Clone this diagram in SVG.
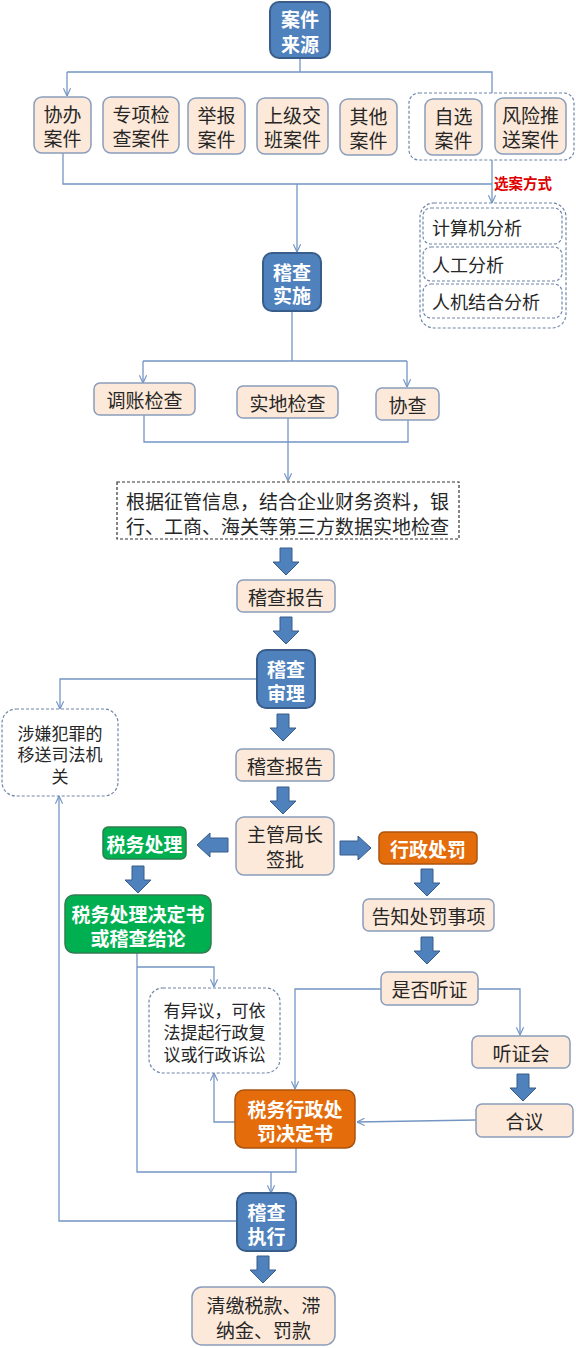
<svg xmlns="http://www.w3.org/2000/svg" width="576" height="1348" viewBox="0 0 576 1348">
<style>
.pb{fill:#FDE9D9;stroke:#8A9DBB;stroke-width:1.5}
.bb{fill:#4F81BD;stroke:#385D8A;stroke-width:2}
.gb{fill:#00B050;stroke:#2E7D4F;stroke-width:1.5}
.ob{fill:#E46C0A;stroke:#A9530F;stroke-width:1.5}
.db{fill:#FFFFFF;stroke:#6F86A8;stroke-width:1.2;stroke-dasharray:3 2}
.dk{fill:#FFFFFF;stroke:#333333;stroke-width:1.2;stroke-dasharray:3 2}
.t{font-family:"Noto Sans CJK SC","Noto Sans",sans-serif;font-size:19px;fill:#262626;text-anchor:middle;dominant-baseline:central}
.l{text-anchor:start}
.w{fill:#FFFFFF;font-weight:bold}
.s17{font-size:17px}
.s18{font-size:18px}
.red{fill:#E00000;font-weight:bold;font-size:14.5px;text-anchor:start}
.blk{fill:#4F81BD;stroke:#385D8A;stroke-width:1}
#connectors path{fill:none;stroke:#7395C3;stroke-width:1.3}
</style>
<defs>
<marker id="ar" viewBox="0 0 10 10" refX="9.5" refY="5" markerWidth="9" markerHeight="9" orient="auto" markerUnits="userSpaceOnUse">
<path d="M1,1 L9.5,5 L1,9" fill="none" stroke="#7395C3" stroke-width="1.3"/>
</marker>
<path id="bd" class="blk" d="M-6,0 H6 V14 H13 L0,27 L-13,14 H-6 Z"/>
<path id="bh" class="blk" d="M-7,0 H7 V18 H12 L0,31 L-12,18 H-7 Z"/>
</defs>

<g id="connectors">
<path d="M300,58 V72 M67,72 H492 V93"/>
<path d="M67,72 V96" marker-end="url(#ar)"/>
<path d="M63,153 V184 H492"/>
<path d="M492,160 V203" marker-end="url(#ar)"/>
<path d="M297,184 V252" marker-end="url(#ar)"/>
<path d="M292,311 V361 M143,361 H407"/>
<path d="M143,361 V383" marker-end="url(#ar)"/>
<path d="M407,361 V387" marker-end="url(#ar)"/>
<path d="M144,415 V442 H408 V420"/>
<path d="M288,418 V481" marker-end="url(#ar)"/>
<path d="M257,679 H60 V709" marker-end="url(#ar)"/>
<path d="M237,1221 H59 V796" marker-end="url(#ar)"/>
<path d="M137,953 V1172 H296 V1148"/>
<path d="M271,1172 V1193" marker-end="url(#ar)"/>
<path d="M137,967 H214 V987" marker-end="url(#ar)"/>
<path d="M235,1122 H214 V1073" marker-end="url(#ar)"/>
<path d="M381,989 H295 V1089" marker-end="url(#ar)"/>
<path d="M478,989 H520 V1035" marker-end="url(#ar)"/>
<path d="M476,1120 L357,1122" marker-end="url(#ar)"/>
</g>

<g id="block-arrows">
<use href="#bd" transform="translate(286,548)"/>
<use href="#bd" transform="translate(286,617)"/>
<use href="#bd" transform="translate(283,714)"/>
<use href="#bd" transform="translate(283,787)"/>
<use href="#bh" transform="translate(228,845) rotate(90)"/>
<use href="#bh" transform="translate(340,848) rotate(-90)"/>
<use href="#bd" transform="translate(138,866)"/>
<use href="#bd" transform="translate(427,869)"/>
<use href="#bd" transform="translate(427,937)"/>
<use href="#bd" transform="translate(523,1074)"/>
<use href="#bd" transform="translate(263,1256)"/>
</g>

<g id="n-source">
<rect class="bb" x="270" y="2" width="60" height="56" rx="9"/>
<text class="t w"><tspan x="300" y="18">案件</tspan><tspan x="300" y="43">来源</tspan></text>
</g>

<g id="n-xieban">
<rect class="pb" x="34" y="97" width="57" height="56" rx="8"/>
<text class="t"><tspan x="62.5" y="113">协办</tspan><tspan x="62.5" y="137">案件</tspan></text>
</g>
<g id="n-zhuanxiang">
<rect class="pb" x="103" y="97" width="76" height="56" rx="8"/>
<text class="t"><tspan x="141" y="113">专项检</tspan><tspan x="141" y="137">查案件</tspan></text>
</g>
<g id="n-jubao">
<rect class="pb" x="188" y="98" width="57" height="56" rx="8"/>
<text class="t"><tspan x="216.5" y="114">举报</tspan><tspan x="216.5" y="138">案件</tspan></text>
</g>
<g id="n-shangji">
<rect class="pb" x="257" y="98" width="71" height="56" rx="8"/>
<text class="t"><tspan x="292.5" y="114">上级交</tspan><tspan x="292.5" y="138">班案件</tspan></text>
</g>
<g id="n-qita">
<rect class="pb" x="340" y="99" width="57" height="56" rx="8"/>
<text class="t"><tspan x="368.5" y="115">其他</tspan><tspan x="368.5" y="139">案件</tspan></text>
</g>
<g id="n-group-select">
<rect class="db" x="409" y="93" width="165" height="67" rx="10"/>
</g>
<g id="n-zixuan">
<rect class="pb" x="425" y="99" width="57" height="56" rx="8"/>
<text class="t"><tspan x="453.5" y="115">自选</tspan><tspan x="453.5" y="139">案件</tspan></text>
</g>
<g id="n-fengxian">
<rect class="pb" x="495" y="98" width="71" height="56" rx="8"/>
<text class="t"><tspan x="530.5" y="114">风险推</tspan><tspan x="530.5" y="138">送案件</tspan></text>
</g>

<g id="label-xuanan">
<text class="t red" x="494" y="182">选案方式</text>
</g>

<g id="n-methods">
<rect class="db" x="420" y="203" width="146" height="125" rx="14"/>
<rect class="db" x="423" y="208" width="139" height="36" rx="8"/>
<rect class="db" x="423" y="247" width="139" height="34" rx="8"/>
<rect class="db" x="423" y="284" width="139" height="34" rx="8"/>
<text class="t l s18" x="432" y="227">计算机分析</text>
<text class="t l s18" x="432" y="264">人工分析</text>
<text class="t l s18" x="432" y="301">人机结合分析</text>
</g>

<g id="n-shishi">
<rect class="bb" x="263" y="253" width="58" height="58" rx="9"/>
<text class="t w"><tspan x="292" y="271">稽查</tspan><tspan x="292" y="294">实施</tspan></text>
</g>

<g id="n-tiaozhang">
<rect class="pb" x="94" y="383" width="101" height="32" rx="6"/>
<text class="t" x="144.5" y="399">调账检查</text>
</g>
<g id="n-shidi">
<rect class="pb" x="237" y="386" width="101" height="32" rx="6"/>
<text class="t" x="287.5" y="402">实地检查</text>
</g>
<g id="n-xiecha">
<rect class="pb" x="376" y="388" width="63" height="32" rx="6"/>
<text class="t" x="407.5" y="404">协查</text>
</g>

<g id="n-genju">
<rect class="dk" x="117" y="482" width="342" height="57"/>
<text class="t l"><tspan x="126" y="500">根据征管信息，结合企业财务资料，银</tspan><tspan x="126" y="525">行、工商、海关等第三方数据实地检查</tspan></text>
</g>

<g id="n-report1">
<rect class="pb" x="237" y="580" width="98" height="32" rx="6"/>
<text class="t" x="286" y="596">稽查报告</text>
</g>

<g id="n-shenli">
<rect class="bb" x="257" y="650" width="58" height="58" rx="9"/>
<text class="t w"><tspan x="286" y="668">稽查</tspan><tspan x="286" y="692">审理</tspan></text>
</g>

<g id="n-sifa">
<rect class="db" x="2" y="709" width="116" height="87" rx="14"/>
<text class="t s17"><tspan x="60" y="732">涉嫌犯罪的</tspan><tspan x="60" y="753">移送司法机</tspan><tspan x="60" y="775">关</tspan></text>
</g>

<g id="n-report2">
<rect class="pb" x="236" y="749" width="98" height="32" rx="6"/>
<text class="t" x="285" y="765">稽查报告</text>
</g>

<g id="n-juzhang">
<rect class="pb" x="236" y="817" width="98" height="58" rx="8"/>
<text class="t"><tspan x="285" y="833">主管局长</tspan><tspan x="285" y="858">签批</tspan></text>
</g>

<g id="n-shuiwu">
<rect class="gb" x="103" y="827" width="83" height="32" rx="5"/>
<text class="t w" x="144.5" y="843">税务处理</text>
</g>

<g id="n-xingzheng">
<rect class="ob" x="379" y="832" width="98" height="32" rx="5"/>
<text class="t w" x="428" y="848">行政处罚</text>
</g>

<g id="n-jueding">
<rect class="gb" x="65" y="895" width="146" height="58" rx="9"/>
<text class="t w"><tspan x="138" y="913">税务处理决定书</tspan><tspan x="138" y="937">或稽查结论</tspan></text>
</g>

<g id="n-gaozhi">
<rect class="pb" x="363" y="899" width="131" height="32" rx="6"/>
<text class="t" x="428.5" y="915">告知处罚事项</text>
</g>

<g id="n-tingzheng-q">
<rect class="pb" x="381" y="972" width="97" height="33" rx="6"/>
<text class="t" x="429.5" y="988.5">是否听证</text>
</g>

<g id="n-yiyi">
<rect class="db" x="149" y="988" width="131" height="85" rx="14"/>
<text class="t s17"><tspan x="214.5" y="1009">有异议，可依</tspan><tspan x="214.5" y="1031">法提起行政复</tspan><tspan x="214.5" y="1053">议或行政诉讼</tspan></text>
</g>

<g id="n-tingzhenghui">
<rect class="pb" x="472" y="1036" width="98" height="32" rx="6"/>
<text class="t" x="521" y="1052">听证会</text>
</g>

<g id="n-heyi">
<rect class="pb" x="476" y="1104" width="97" height="33" rx="6"/>
<text class="t" x="524.5" y="1120.5">合议</text>
</g>

<g id="n-chufa">
<rect class="ob" x="235" y="1090" width="120" height="58" rx="9"/>
<text class="t w"><tspan x="295" y="1108">税务行政处</tspan><tspan x="295" y="1132">罚决定书</tspan></text>
</g>

<g id="n-zhixing">
<rect class="bb" x="237" y="1193" width="59" height="58" rx="9"/>
<text class="t w"><tspan x="266.5" y="1211">稽查</tspan><tspan x="266.5" y="1235">执行</tspan></text>
</g>

<g id="n-qingjiao">
<rect class="pb" x="192" y="1287" width="143" height="58" rx="10"/>
<text class="t"><tspan x="263.5" y="1304">清缴税款、滞</tspan><tspan x="263.5" y="1329">纳金、罚款</tspan></text>
</g>
</svg>
